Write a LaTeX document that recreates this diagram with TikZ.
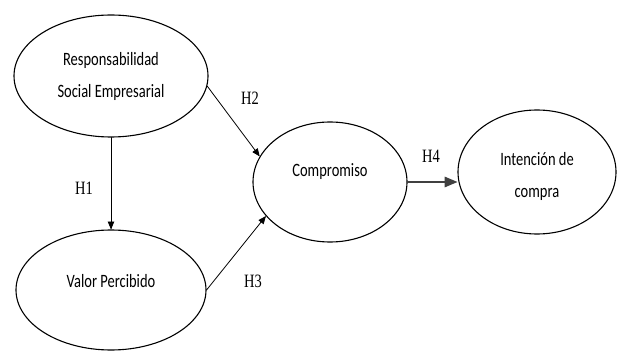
\documentclass[tikz,border=0pt]{standalone}
\usepackage{fontspec}
\setmainfont{Liberation Serif}
\newfontfamily\carlito{Carlito}
\usetikzlibrary{arrows,shapes.geometric}
\newcommand{\alto}[1]{\scalebox{1}[1.3]{\begin{tabular}{@{}c@{}}#1\end{tabular}}}

\begin{document}
\begin{tikzpicture}[line cap=round,line join=round,>=triangle 45,x=1pt,y=1pt,
	elip/.style={draw=black,ellipse,line width=1.1pt,inner sep=0pt},
	txt/.style={font=\carlito\fontsize{14.5}{17}\selectfont,inner sep=0pt},
	hip/.style={font=\fontsize{14.5}{17}\selectfont,inner sep=0pt}]
			\useasboundingbox (0,0) rectangle (617,-352);
			\node [elip,minimum width=194,minimum height=122] (rse) at (111,-76) {};
			\node [elip,minimum width=190,minimum height=120] (vp) at (111,-290) {};
			\node [elip,minimum width=154,minimum height=120] (comp) at (330,-182) {};
			\node [elip,minimum width=158,minimum height=124] (int) at (537,-172) {};
			\node [txt] (trse) at (111,-77) {\alto{Responsabilidad\\[8pt]Social Empresarial}};
			\node [txt] (tvp) at (111,-283) {\alto{Valor Percibido}};
			\node [txt] (tcomp) at (330,-172) {\alto{Compromiso}};
			\node [txt] (tint) at (537,-177) {\alto{Intención de\\[8pt]compra}};
			\draw [->,line width=0.8pt] (rse.south) -- (vp.north);
			\draw [->,line width=0.8pt] (rse.-6) -- (comp.160);
			\draw [->,line width=0.8pt] (vp.east) -- (comp.208);
			\draw [->,line width=2pt,color=black!75] (comp.east) -- (comp.east -| int.west);
			\node [hip] (h1) at (84,-190) {\alto{H1}};
			\node [hip] (h2) at (250,-100) {\alto{H2}};
			\node [hip] (h3) at (253,-283) {\alto{H3}};
			\node [hip] (h4) at (431,-158) {\alto{H4}};
			\end{tikzpicture}
\end{document}
